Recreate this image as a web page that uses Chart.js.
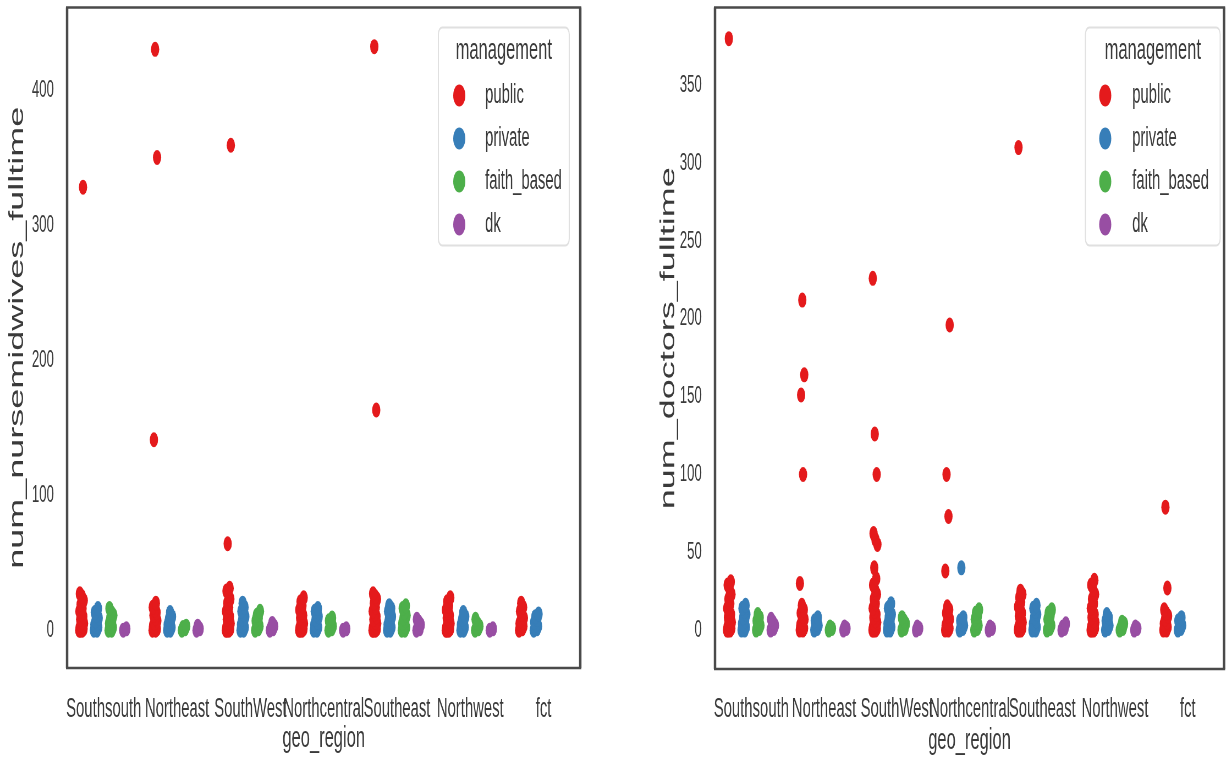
<!DOCTYPE html>
<html>
<head>
<meta charset="utf-8">
<title>geo_region strip plots</title>
<script src="https://cdn.jsdelivr.net/npm/chart.js"></script>
<style>
  html, body { margin: 0; padding: 0; background: #fff; overflow: hidden; }
  /* the reference figure is squeezed sideways, so draw wide and squash */
  #wrap { position: relative; width: 2233px; height: 762px; transform: scaleX(0.55); transform-origin: 0 0; filter: blur(0.5px); }
  #wrap canvas { position: absolute; top: 0; }
</style>
</head>
<body>
<div id="wrap">
  <canvas id="nurseChart" width="1180" height="762" style="left:0"></canvas>
  <canvas id="doctorChart" width="1053" height="762" style="left:1180px"></canvas>
</div>
<script>
(function(){

    var regions = ['Southsouth', 'Northeast', 'SouthWest', 'Northcentral', 'Southeast', 'Northwest', 'fct'];
    var management = ['public', 'private', 'faith_based', 'dk'];

    var nurseTicks = [0, 100, 200, 300, 400];
    var doctorTicks = [0, 50, 100, 150, 200, 250, 300, 350];

    // num_nursemidwives_fulltime, one list per region
    var nursePublic = [
        [0,0,0,1,1,2,3,4,5,6,8,10,12,14,16,19,22,25,27,328],
        [0,0,1,1,2,3,4,5,7,9,11,13,15,17,20,141,350,430],
        [0,0,0,1,1,2,3,4,5,6,8,10,12,14,17,20,23,26,29,31,64,359],
        [0,0,0,1,1,2,3,4,5,7,9,11,13,15,18,21,24],
        [0,0,0,1,1,2,3,4,5,6,8,10,12,14,17,20,23,25,27,163,432],
        [0,0,0,1,1,2,3,4,5,7,9,11,13,15,18,21,24],
        [0,1,2,3,4,5,6,7,9,12,14,17,20]
    ];
    var nursePrivate = [
        [0,0,1,2,3,4,5,7,9,11,13,16],
        [0,0,1,2,3,4,6,8,10,13],
        [0,0,1,2,3,4,6,8,10,12,14,17,20],
        [0,0,1,2,3,4,6,8,10,12,14,16],
        [0,0,1,2,3,4,6,8,10,12,14,16,18],
        [0,0,1,2,3,4,6,8,10,13],
        [0,1,2,3,4,6,8,10,12]
    ];
    var nurseFaith = [
        [0,0,1,2,3,5,7,9,11,13,16],
        [0,1,2,3],
        [0,1,2,3,5,7,9,11,14],
        [0,1,2,3,5,7,9],
        [0,0,1,2,3,5,7,9,11,13,16,18],
        [0,1,2,3,5,8],
        []
    ];
    var nurseDk = [
        [0,1],
        [0,1,3],
        [0,1,2,3,5],
        [0,1],
        [0,1,2,4,6,8],
        [0,1],
        []
    ];

    // num_doctors_fulltime
    var doctorPublic = [
        [0,0,0,1,1,2,3,4,5,6,8,10,12,14,17,20,23,26,29,31,380],
        [0,0,1,1,2,3,4,5,7,9,11,13,16,30,100,151,164,212],
        [0,0,0,1,1,2,3,4,5,6,8,10,12,14,17,20,23,26,29,33,40,55,58,62,100,126,226],
        [0,0,1,1,2,3,4,5,7,9,11,13,15,38,73,100,196],
        [0,0,0,1,1,2,3,4,5,7,9,11,13,15,18,21,23,25,310],
        [0,0,0,1,1,2,3,4,5,6,8,10,12,14,17,20,23,26,29,32],
        [0,0,1,2,3,4,5,7,9,11,13,27,79]
    ];
    var doctorPrivate = [
        [0,0,1,2,3,4,6,8,10,12,14,16],
        [0,1,2,3,4,6,8],
        [0,0,1,2,3,4,6,8,10,12,14,17],
        [0,1,2,3,4,6,8,40],
        [0,0,1,2,3,4,6,8,10,12,14,16],
        [0,1,2,3,4,6,8,10],
        [0,1,2,3,4,6,8]
    ];
    var doctorFaith = [
        [0,1,2,3,4,6,8,10],
        [0,1,2],
        [0,1,2,4,6,8],
        [0,1,2,3,5,7,9,11,13],
        [0,1,2,3,5,7,9,11,13],
        [0,1,2,4,5],
        []
    ];
    var doctorDk = [
        [0,1,2,3,5,7],
        [0,1,2],
        [0,1,2],
        [0,1,2],
        [0,1,2,4],
        [0,1,2],
        []
    ];

    var palette = ['#e41a1c', '#377eb8', '#4daf4a', '#984ea3'];
    var family = "'Liberation Sans', Arial, sans-serif";
    var ink = '#3a3a3a';

    Chart.defaults.font.family = family;
    Chart.defaults.color = ink;

    // small fixed spread inside a dodge slot (stripplot jitter)
    function jitter(k) {
        return (((k * 0.618034) % 1) - 0.5) * 0.07;
    }

    function buildDatasets(series) {
        return management.map(function (m, mi) {
            var pts = [];
            series[mi].forEach(function (vals, ri) {
                vals.forEach(function (v, k) {
                    pts.push({ x: ri + (mi - 1.5) * 0.2 + jitter(k), y: v });
                });
            });
            return {
                label: m,
                data: pts,
                backgroundColor: palette[mi],
                borderWidth: 0,
                pointRadius: 7.5,
                pointHoverRadius: 7.5
            };
        });
    }

    var framePlugin = {
        id: 'frame',
        afterDatasetsDraw: function (chart) {
            var ctx = chart.ctx, a = chart.chartArea;
            ctx.save();
            ctx.strokeStyle = '#4a4a4a';
            ctx.lineWidth = 2.5;
            ctx.beginPath();
            ctx.moveTo(a.left - 2, a.top); ctx.lineTo(a.right + 2, a.top);
            ctx.moveTo(a.left - 2, a.bottom); ctx.lineTo(a.right + 2, a.bottom);
            ctx.stroke();
            ctx.lineWidth = 4.5;
            ctx.beginPath();
            ctx.moveTo(a.left, a.top); ctx.lineTo(a.left, a.bottom);
            ctx.moveTo(a.right, a.top); ctx.lineTo(a.right, a.bottom);
            ctx.stroke();
            ctx.restore();
        }
    };

    var legendPlugin = {
        id: 'mgmtLegend',
        afterDraw: function (chart, args, o) {
            var ctx = chart.ctx, a = chart.chartArea;
            var L = a.right - o.gapRight - o.width, T = a.top + o.gapTop;
            ctx.save();
            ctx.beginPath();
            ctx.roundRect(L, T, o.width, o.height, 7);
            ctx.fillStyle = 'rgba(255,255,255,0.9)';
            ctx.fill();
            ctx.lineWidth = 2;
            ctx.strokeStyle = '#e0e0e0';
            ctx.stroke();
            ctx.textBaseline = 'middle';
            ctx.fillStyle = ink;
            ctx.textAlign = 'center';
            ctx.font = '30px ' + family;
            ctx.fillText(o.title, L + o.width / 2, T + 23);
            ctx.textAlign = 'left';
            ctx.font = '27px ' + family;
            chart.data.datasets.forEach(function (ds, i) {
                var y = T + o.rowTop + i * o.rowGap;
                ctx.beginPath();
                ctx.arc(L + o.markerX, y, 11, 0, Math.PI * 2);
                ctx.fillStyle = ds.backgroundColor;
                ctx.fill();
                ctx.fillStyle = ink;
                ctx.fillText(ds.label, L + o.textX, y);
            });
            ctx.restore();
        }
    };

    function makeChart(obj) {
        var ctx = document.getElementById(obj.canvasId).getContext('2d');
        return new Chart(ctx, {
            type: 'scatter',
            data: { datasets: buildDatasets(obj.series) },
            plugins: [framePlugin, legendPlugin],
            options: {
                responsive: false,
                animation: false,
                devicePixelRatio: 1,
                layout: { padding: { top: 5, right: obj.padRight, left: 0, bottom: 0 } },
                plugins: {
                    legend: { display: false },
                    tooltip: { enabled: false },
                    mgmtLegend: obj.legend
                },
                scales: {
                    x: {
                        type: 'linear',
                        min: -0.5,
                        max: regions.length - 0.5,
                        grid: { display: false },
                        border: { display: false },
                        afterBuildTicks: function (s) {
                            s.ticks = regions.map(function (r, i) { return { value: i }; });
                        },
                        afterFit: function (s) {
                            s.height = obj.xAxisHeight;
                            s.paddingLeft = 0;
                            s.paddingRight = 0;
                        },
                        ticks: {
                            autoSkip: false,
                            maxRotation: 0,
                            minRotation: 0,
                            padding: obj.xTickPad,
                            color: ink,
                            font: { size: 27 },
                            callback: function (v) { return regions[v]; }
                        },
                        title: {
                            display: true,
                            text: 'geo_region',
                            color: ink,
                            font: { size: 30 },
                            padding: { top: 0, bottom: obj.xTitlePad }
                        }
                    },
                    y: {
                        min: obj.yMin,
                        max: obj.yMax,
                        grid: { display: false },
                        border: { display: false },
                        afterBuildTicks: function (s) {
                            s.ticks = obj.yTicks.map(function (t) { return { value: t }; });
                        },
                        afterFit: function (s) {
                            s.width = obj.yAxisWidth;
                            s.paddingTop = 0;
                            s.paddingBottom = 0;
                        },
                        ticks: { padding: 16, color: ink, font: { size: 24 } },
                        title: {
                            display: true,
                            text: obj.yTitle,
                            color: ink,
                            font: { size: 36 },
                            padding: { top: obj.yTitlePad, bottom: 0 }
                        }
                    }
                }
            }
        });
    }

    var nurseChart = makeChart({
        canvasId: 'nurseChart',
        series: [nursePublic, nursePrivate, nurseFaith, nurseDk],
        yTicks: nurseTicks,
        yMin: -28,
        yMax: 461,
        yTitle: 'num_nursemidwives_fulltime',
        padRight: 125,
        yAxisWidth: 122,
        xAxisHeight: 94,
        xTickPad: 17,
        xTitlePad: 5,
        yTitlePad: 10,
        legend: { title: 'management', width: 238, height: 218, gapRight: 20, gapTop: 20,
                  markerX: 38, textX: 85, rowTop: 68, rowGap: 43 }
    });

    var doctorChart = makeChart({
        canvasId: 'doctorChart',
        series: [doctorPublic, doctorPrivate, doctorFaith, doctorDk],
        yTicks: doctorTicks,
        yMin: -25,
        yMax: 400,
        yTitle: 'num_doctors_fulltime',
        padRight: 2,
        yAxisWidth: 120,
        xAxisHeight: 93,
        xTickPad: 16,
        xTitlePad: 3,
        yTitlePad: 14,
        legend: { title: 'management', width: 245, height: 218, gapRight: 7, gapTop: 20,
                  markerX: 36, textX: 85, rowTop: 68, rowGap: 43 }
    });

})();
</script>
</body>
</html>
